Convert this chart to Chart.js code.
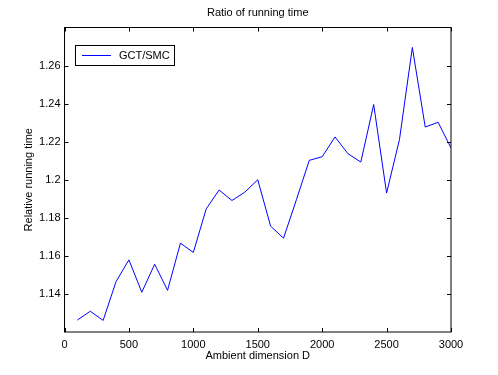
<!DOCTYPE html>
<html>
<head>
<meta charset="utf-8">
<script src="https://cdn.jsdelivr.net/npm/chart.js@4"></script>
<style>
html,body{margin:0;padding:0;background:#fff;}
#wrap{width:498px;height:375px;}
</style>
</head>
<body>
<div id="wrap"><canvas id="c" width="498" height="375"></canvas></div>
<script>
const dims = [100,200,300,400,500,600,700,800,900,1000,1100,1200,1300,1400,1500,1600,1700,1800,1900,2000,2100,2200,2300,2400,2500,2600,2700,2800,2900,3000];
const ratio = [1.1263,1.1309,1.1261,1.1465,1.1579,1.1409,1.1556,1.1419,1.1667,1.1618,1.1847,1.1946,1.1891,1.1935,1.2000,1.1756,1.1693,1.1895,1.2102,1.2121,1.2225,1.2137,1.2093,1.2395,1.1930,1.2211,1.2695,1.2277,1.2302,1.2167];
const xTicks = [0,500,1000,1500,2000,2500,3000];
const yTicks = [1.14,1.16,1.18,1.2,1.22,1.24,1.26];
const seriesName = 'GCT/SMC';
const titleText = 'Ratio of running time';
const xTitle = 'Ambient dimension D';
const yTitle = 'Relative running time';

const FONT = '"Liberation Sans", Arial, Helvetica, sans-serif';

const matlabPlugin = {
  id: 'matlab',
  afterDatasetsDraw(chart) {
    const ctx = chart.ctx;
    const a = chart.chartArea;
    const xs = chart.scales.x, ys = chart.scales.y;
    ctx.save();
    ctx.strokeStyle = '#000';
    ctx.lineWidth = 1;
    // frame
    ctx.strokeRect(a.left, a.top, a.right - a.left, a.bottom - a.top);
    // tick marks inside
    const tl = 4;
    ctx.beginPath();
    xTicks.forEach(v => {
      const px = Math.round(xs.getPixelForValue(v)) + 0.5;
      ctx.moveTo(px, a.bottom); ctx.lineTo(px, a.bottom - tl);
      ctx.moveTo(px, a.top); ctx.lineTo(px, a.top + tl);
    });
    yTicks.forEach(v => {
      const py = Math.round(ys.getPixelForValue(v)) + 0.5;
      ctx.moveTo(a.left, py); ctx.lineTo(a.left + tl, py);
      ctx.moveTo(a.right, py); ctx.lineTo(a.right - tl, py);
    });
    ctx.stroke();
    // legend
    const lx = 75.5, ly = 45.5, lw = 99, lh = 20;
    ctx.fillStyle = '#fff';
    ctx.fillRect(lx, ly, lw, lh);
    ctx.strokeRect(lx, ly, lw, lh);
    ctx.strokeStyle = 'rgb(0,0,255)';
    ctx.beginPath();
    ctx.moveTo(82, ly + lh / 2); ctx.lineTo(111, ly + lh / 2);
    ctx.stroke();
    ctx.fillStyle = '#000';
    ctx.font = '11px ' + FONT;
    ctx.textAlign = 'left';
    ctx.textBaseline = 'middle';
    ctx.fillText(seriesName, 119, ly + lh / 2 + 0.5);
    // title
    const cx = (a.left + a.right) / 2;
    ctx.textAlign = 'center';
    ctx.fillText(titleText, cx, 13);
    // x title
    ctx.fillText(xTitle, cx, 356);
    // y title
    ctx.save();
    ctx.translate(28.5, (a.top + a.bottom) / 2);
    ctx.rotate(-Math.PI / 2);
    ctx.fillText(yTitle, 0, 0);
    ctx.restore();
    ctx.restore();
  }
};

new Chart(document.getElementById('c'), {
  type: 'line',
  data: {
    datasets: [{
      label: seriesName,
      data: dims.map((d, i) => ({x: d, y: ratio[i]})),
      borderColor: 'rgb(0,0,255)',
      borderWidth: 1,
      pointRadius: 0,
      tension: 0,
      fill: false
    }]
  },
  options: {
    responsive: false,
    animation: false,
    devicePixelRatio: 1,
    layout: {padding: {top: 27.5, right: 47, left: 0, bottom: 0}},
    plugins: {legend: {display: false}, title: {display: false}, tooltip: {enabled: false}},
    scales: {
      x: {
        type: 'linear', min: 0, max: 3000,
        afterBuildTicks: s => { s.ticks = xTicks.map(v => ({value: v})); },
        afterFit: s => { s.height = 43; },
        grid: {display: false, drawTicks: false},
        border: {display: false},
        ticks: {color: '#000', font: {family: FONT, size: 11}, padding: 6, maxRotation: 0,
                callback: v => String(v)}
      },
      y: {
        type: 'linear', min: 1.12, max: 1.28,
        afterBuildTicks: s => { s.ticks = yTicks.map(v => ({value: v})); },
        afterFit: s => { s.width = 64.5; },
        grid: {display: false, drawTicks: false},
        border: {display: false},
        ticks: {color: '#000', font: {family: FONT, size: 11}, padding: 4,
                callback: v => String(Math.round(v * 100) / 100)}
      }
    }
  },
  plugins: [matlabPlugin]
});
</script>
</body>
</html>
